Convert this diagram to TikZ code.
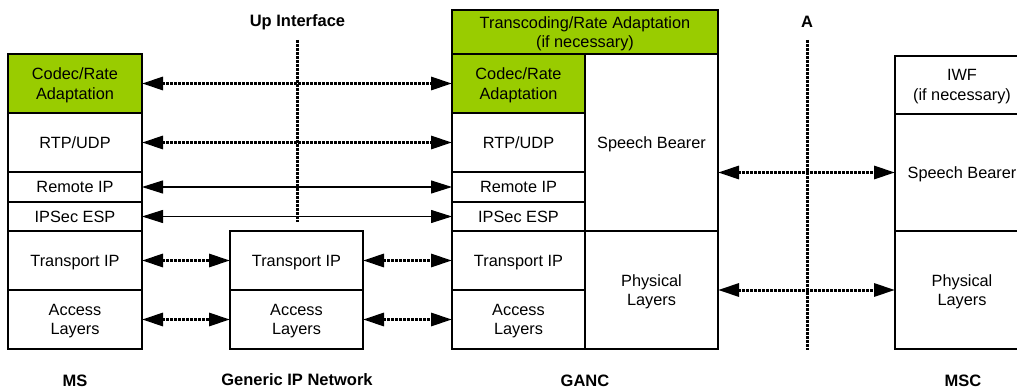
\documentclass[tikz,border=0pt]{standalone}
\usepackage{fontspec}
\setmainfont{Liberation Sans}
\usetikzlibrary{arrows.meta}
\definecolor{lgreen}{RGB}{153,204,0}
\begin{document}
\begin{tikzpicture}[x=1pt,y=-1pt,
  >={Triangle[length=21pt,width=13pt]},
  lay/.style={draw=black,line width=1.2pt,inner sep=0pt,outer sep=0pt,align=center,
    font=\fontsize{16.3}{19.5}\selectfont,text depth=0pt},
  grn/.style={fill=lgreen},
  lbl/.style={font=\fontsize{16.5}{19}\selectfont\bfseries,inner sep=0pt},
  dotl/.style={line width=3pt,dash pattern=on 3pt off 1pt},
  dar/.style={dotl,<->},
  sar/.style={line width=1.1pt,<->},
  vline/.style={dotl}]
\useasboundingbox (0,0) rectangle (1017,390);
% MS
\node[lay,grn,minimum width=134,minimum height=59] (mcodec) at (75,83.5) {Codec/Rate\\Adaptation};
\node[lay,minimum width=134,minimum height=59] (mrtp) at (75,142.5) {RTP/UDP};
\node[lay,minimum width=134,minimum height=30] (mrem) at (75,187) {Remote IP};
\node[lay,minimum width=134,minimum height=29] (mips) at (75,216.5) {IPSec ESP};
\node[lay,minimum width=134,minimum height=59] (mtr) at (75,260.5) {Transport IP};
\node[lay,minimum width=134,minimum height=59] (macc) at (75,319.5) {Access\\Layers};
% Generic IP network
\node[lay,minimum width=133,minimum height=59] (ntr) at (296.5,260.5) {Transport IP};
\node[lay,minimum width=133,minimum height=59] (nacc) at (296.5,319.5) {Access\\Layers};
% GANC
\node[lay,grn,minimum width=266,minimum height=44] (gtc) at (585,32) {Transcoding/Rate Adaptation\\(if necessary)};
\node[lay,grn,minimum width=133,minimum height=59] (gcodec) at (518.5,83.5) {Codec/Rate\\Adaptation};
\node[lay,minimum width=133,minimum height=59] (grtp) at (518.5,142.5) {RTP/UDP};
\node[lay,minimum width=133,minimum height=30] (grem) at (518.5,187) {Remote IP};
\node[lay,minimum width=133,minimum height=29] (gips) at (518.5,216.5) {IPSec ESP};
\node[lay,minimum width=133,minimum height=59] (gtr) at (518.5,260.5) {Transport IP};
\node[lay,minimum width=133,minimum height=59] (gacc) at (518.5,319.5) {Access\\Layers};
\node[lay,minimum width=133,minimum height=177] (gsb) at (651.5,142.5) {Speech Bearer};
\node[lay,minimum width=133,minimum height=118] (gph) at (651.5,290) {Physical\\Layers};
% MSC
\node[lay,minimum width=134,minimum height=58] (iwf) at (962,85) {IWF\\(if necessary)};
\node[lay,minimum width=134,minimum height=117] (csb) at (962,172.5) {Speech Bearer};
\node[lay,minimum width=134,minimum height=118] (cph) at (962,290) {Physical\\Layers};
% labels
\node[lbl] (upl) at (297.5,22) {Up Interface};
\node[lbl] (al) at (807,22) {A};
\node[lbl] (ms) at (75,381) {MS};
\node[lbl] (gin) at (297,379.5) {Generic IP Network};
\node[lbl] (ganc) at (585,381) {GANC};
\node[lbl] (msc) at (963,381) {MSC};
% interface lines
\coordinate (uptop) at (297.5,40);
\coordinate (upbot) at (297.5,222);
\coordinate (atop) at (807,40);
\coordinate (abot) at (807,350);
\draw[vline] (uptop) -- (upbot);
\draw[vline] (atop) -- (abot);
% arrows
\draw[dar] (mcodec.east) -- (gcodec.west);
\draw[dar] (mrtp.east) -- (grtp.west);
\draw[sar] (mrem.east) -- (grem.west);
\draw[sar] (mips.east) -- (gips.west);
\draw[dar] (mtr.east) -- (ntr.west);
\draw[dar] (ntr.east) -- (gtr.west);
\draw[dar] (macc.east) -- (nacc.west);
\draw[dar] (nacc.east) -- (gacc.west);
\draw[dar] (gsb.east |- csb.west) -- (csb.west);
\draw[dar] (gph.east) -- (cph.west);
\end{tikzpicture}
\end{document}
